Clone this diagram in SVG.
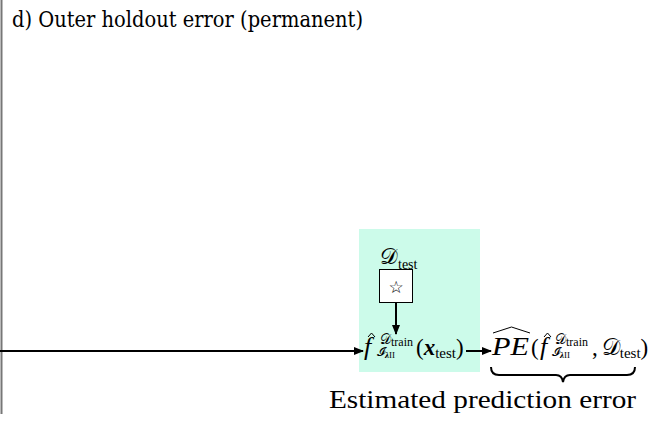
<svg xmlns="http://www.w3.org/2000/svg" width="649" height="421" viewBox="0 0 649 421">
<style>
.s{font-family:"Liberation Serif","Times New Roman",serif;fill:#000}
.i{font-style:italic}
.ln{stroke:#000;stroke-width:2;fill:none}
.hat{stroke:#000;stroke-width:1;fill:none}
</style>
<defs>
<marker id="ah" markerWidth="10" markerHeight="8" refX="9" refY="4" orient="auto" markerUnits="userSpaceOnUse">
<path d="M0,0 L10,4 L0,8 Z" fill="#000"/>
</marker>
</defs>
<rect width="649" height="421" fill="#fff"/>
<line x1="1.5" y1="0" x2="1.5" y2="414" stroke="#777" stroke-width="2"/>
<g id="title">
<text x="12" y="27" font-family="DejaVu Serif, serif" font-size="23" textLength="351" lengthAdjust="spacingAndGlyphs">d) Outer holdout error (permanent)</text>
</g>
<g id="model-box">
<rect x="359" y="229" width="121" height="143" fill="#ccfbea"/>
</g>
<g id="dtest">
<text class="s" x="380" y="264" font-size="22">𝒟<tspan font-size="14" dy="5">test</tspan></text>
<rect x="379.5" y="269.5" width="33" height="33" fill="#fff" stroke="#000" stroke-width="1"/>
<text x="396" y="293" font-size="17" text-anchor="middle" font-family="DejaVu Sans, sans-serif">☆</text>
</g>
<g id="prediction">
<text class="s i" x="364" y="355" font-size="26">f</text>
<path d="M368,337 L371.5,333 L375,337" class="hat"/>
<text class="s" x="380" y="344" font-size="14">𝒟<tspan font-size="12" dy="2">train</tspan></text>
<text class="s" x="377" y="356" font-size="12">𝓘<tspan font-size="9" dy="2" font-weight="bold" class="i">λ</tspan><tspan font-size="9">II</tspan></text>
<text class="s" x="416" y="355" font-size="23">(<tspan font-weight="bold" class="i">x</tspan><tspan font-size="15" dy="3">test</tspan><tspan dy="-3">)</tspan></text>
</g>
<g id="pe">
<text class="s i" x="492" y="355" font-size="25" textLength="37" lengthAdjust="spacingAndGlyphs">PE</text>
<path d="M493,333 L511.5,327 L530,333" class="hat"/>
<text class="s" x="531" y="355" font-size="23">(</text>
<text class="s i" x="540" y="355" font-size="26">f</text>
<path d="M544,337 L547.5,333 L551,337" class="hat"/>
<text class="s" x="555" y="344" font-size="14">𝒟<tspan font-size="12" dy="2">train</tspan></text>
<text class="s" x="552" y="356" font-size="12">𝓘<tspan font-size="9" dy="2" font-weight="bold" class="i">λ</tspan><tspan font-size="9">II</tspan></text>
<text class="s" x="592" y="355" font-size="23">,<tspan dx="4">𝒟</tspan><tspan font-size="15" dy="3">test</tspan><tspan dy="-3">)</tspan></text>
<path d="M491,367 Q491,375 499,375 L556,375 Q562,375 563,382 Q564,375 570,375 L627,375 Q635,375 635,367" class="ln"/>
<text class="s" x="329" y="408" font-size="25" textLength="307" lengthAdjust="spacingAndGlyphs">Estimated prediction error</text>
</g>
<g id="connectors">
<line x1="0" y1="351" x2="363" y2="351" class="ln" marker-end="url(#ah)"/>
<line x1="466" y1="351" x2="491" y2="351" class="ln" marker-end="url(#ah)"/>
<line x1="396" y1="303" x2="396" y2="334" class="ln" marker-end="url(#ah)"/>
</g>
</svg>
